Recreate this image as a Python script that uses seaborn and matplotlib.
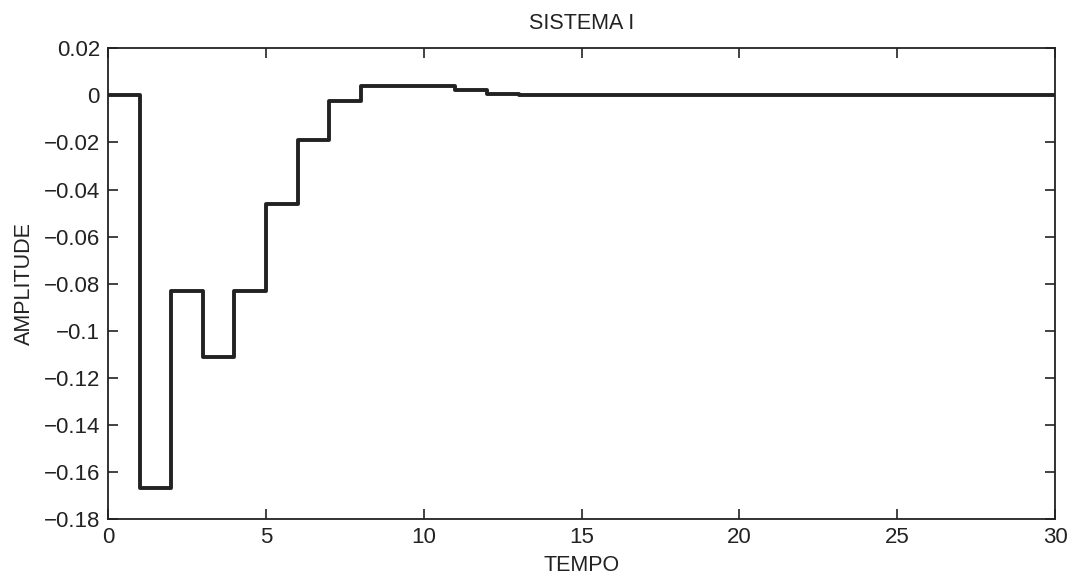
import numpy as np
import pandas as pd
import matplotlib
matplotlib.use("Agg")
import matplotlib.pyplot as plt
import seaborn as sns

# Discrete-time response of the system, one value per sample
tempo = list(range(0, 31))
amplitude = [0.0, -0.1667, -0.0833, -0.1111, -0.0833, -0.0461, -0.0190, -0.0022,
             0.0039, 0.0039, 0.0039, 0.0022, 0.0008, 0.0, 0.0, 0.0, 0.0, 0.0,
             0.0, 0.0, 0.0, 0.0, 0.0, 0.0, 0.0, 0.0, 0.0, 0.0, 0.0, 0.0, 0.0]

x_ticks = [0, 5, 10, 15, 20, 25, 30]
y_ticks = [0.02, 0, -0.02, -0.04, -0.06, -0.08, -0.1, -0.12, -0.14, -0.16, -0.18]
y_tick_labels = ["0.02", "0", "\u22120.02", "\u22120.04", "\u22120.06", "\u22120.08",
                 "\u22120.1", "\u22120.12", "\u22120.14", "\u22120.16", "\u22120.18"]

df = pd.DataFrame({"TEMPO": tempo, "AMPLITUDE": amplitude})

sns.set_theme(style="white")
plt.rcParams["font.family"] = ["Liberation Sans", "DejaVu Sans"]

fig = plt.figure(figsize=(10.75, 5.77), dpi=100)
ax = fig.add_axes([0.1007, 0.1005, 0.8807, 0.8157])

sns.lineplot(data=df, x="TEMPO", y="AMPLITUDE", drawstyle="steps-post",
             color="#222222", linewidth=2.8, ax=ax)

ax.set_xlim(0, 30)
ax.set_ylim(-0.18, 0.02)
ax.set_xticks(x_ticks)
ax.set_xticklabels([str(t) for t in x_ticks])
ax.set_yticks(y_ticks)
ax.set_yticklabels(y_tick_labels)

ax.tick_params(axis="both", which="both", direction="in", length=7, width=1.2,
               color="#222222", labelsize=16, labelcolor="#222222",
               top=True, right=True, bottom=True, left=True, pad=6)
for side in ax.spines.values():
    side.set_color("#222222")
    side.set_linewidth(1.3)

ax.set_title("SISTEMA I", fontsize=15.5, color="#222222", pad=14)
ax.set_xlabel("TEMPO", fontsize=15.5, color="#222222", labelpad=5)
ax.set_ylabel("AMPLITUDE", fontsize=15.5, color="#222222", labelpad=6)

fig.savefig("out.png", dpi=100, facecolor="white")
